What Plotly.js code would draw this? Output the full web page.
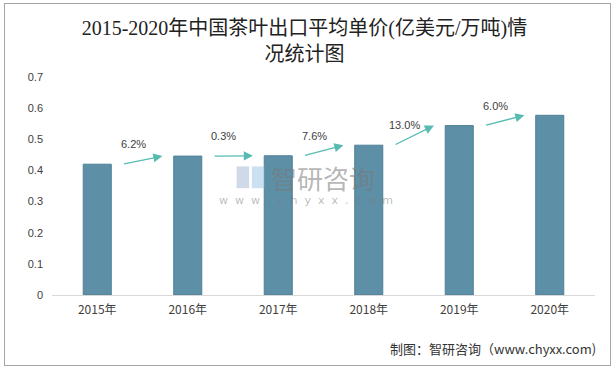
<!DOCTYPE html>
<html>
<head>
<meta charset="utf-8">
<script src="https://cdn.plot.ly/plotly-3.0.1.min.js"></script>
<style>
  html, body { margin: 0; padding: 0; background: #fff; }
  #wrap { position: relative; width: 615px; height: 369px; }
  #chart { width: 615px; height: 369px; }
  #frame { position: absolute; left: 4px; top: 3px; width: 607px; height: 363px;
           border: 1px solid #A6A6A6; pointer-events: none; box-sizing: border-box; }
</style>
</head>
<body>
<div id="wrap"><div id="chart"></div><div id="frame"></div></div>
<script>
const categories = ['2015年', '2016年', '2017年', '2018年', '2019年', '2020年'];
const values = [0.42, 0.446, 0.447, 0.481, 0.544, 0.577];
const growth = ['6.2%', '0.3%', '7.6%', '13.0%', '6.0%'];
const yTicks = [0, 0.1, 0.2, 0.3, 0.4, 0.5, 0.6, 0.7];

const barColor = '#5D90A7';
const arrowColor = '#57BBB2';
const cjk = '"Noto Sans CJK SC", "Noto Sans", sans-serif';
const serif = '"Liberation Serif", "DejaVu Serif", "Noto Sans CJK SC", serif';

const trace = {
  type: 'bar',
  x: categories,
  y: values,
  width: 0.31,
  marker: { color: barColor, line: { color: '#4F8097', width: 1 } },
  hoverinfo: 'skip'
};

const annotations = [];
for (let i = 0; i < growth.length; i++) {
  annotations.push({
    xref: 'x', yref: 'y', axref: 'x', ayref: 'y',
    x: i + 0.72, y: values[i + 1],
    ax: i + 0.28, ay: values[i],
    showarrow: true, arrowhead: 2, arrowsize: 1.4, arrowwidth: 1.3,
    arrowcolor: arrowColor, text: ''
  });
  annotations.push({
    xref: 'x', yref: 'y',
    x: i + 0.4, y: values[i], yshift: 20,
    text: growth[i], showarrow: false,
    font: { family: '"Liberation Sans", "DejaVu Sans", sans-serif', size: 11, color: '#404040' }
  });
}

// source note
annotations.push({
  xref: 'paper', yref: 'paper', x: 1.005, y: -0.245, xanchor: 'right', yanchor: 'middle',
  text: '制图：智研咨询（www.chyxx.com)', showarrow: false,
  font: { family: cjk, size: 13, color: '#333333' }
});
// watermark
annotations.push({
  xref: 'paper', yref: 'paper', x: 0.499, y: 0.54, xanchor: 'center', yanchor: 'middle',
  text: '智研咨询', showarrow: false,
  font: { family: cjk, size: 26, color: 'rgba(120,120,120,0.55)' }
});
annotations.push({
  xref: 'paper', yref: 'paper', x: 0.468, y: 0.435, xanchor: 'center', yanchor: 'middle',
  text: 'w&nbsp;&nbsp;w&nbsp;&nbsp;w&nbsp;&nbsp;.&nbsp;&nbsp;c&nbsp;&nbsp;h&nbsp;&nbsp;y&nbsp;&nbsp;x&nbsp;&nbsp;x&nbsp;&nbsp;.&nbsp;&nbsp;c&nbsp;&nbsp;o&nbsp;&nbsp;m',
  showarrow: false,
  font: { family: '"DejaVu Sans", sans-serif', size: 11, color: 'rgba(120,120,120,0.5)' }
});

const shapes = [
  // watermark logo approximation
  { type: 'rect', xref: 'paper', yref: 'paper', x0: 0.34, x1: 0.363, y0: 0.49, y1: 0.59,
    line: { width: 0 }, fillcolor: 'rgba(170,185,215,0.55)' },
  { type: 'rect', xref: 'paper', yref: 'paper', x0: 0.368, x1: 0.391, y0: 0.49, y1: 0.59,
    line: { width: 0 }, fillcolor: 'rgba(160,200,230,0.55)' }
];

const layout = {
  width: 615, height: 369,
  margin: { l: 52, r: 20, t: 77, b: 74 },
  paper_bgcolor: '#ffffff', plot_bgcolor: '#ffffff',
  title: {
    text: '2015-2020年中国茶叶出口平均单价(亿美元/万吨)情<br>况统计图',
    x: 0.495, xref: 'container', xanchor: 'center',
    y: 0.906, yref: 'container', yanchor: 'middle',
    font: { family: serif, size: 20, color: '#222222' }
  },
  xaxis: {
    type: 'category',
    tickfont: { family: cjk, size: 12, color: '#404040' },
    showgrid: false, showline: false, zeroline: false, ticks: '',
    ticklabelstandoff: 6
  },
  yaxis: {
    range: [0, 0.7], tickvals: yTicks, ticktext: yTicks.map(v => String(v)),
    showgrid: false, zeroline: true, zerolinecolor: '#D9D9D9', zerolinewidth: 1,
    showline: false, ticks: '',
    tickfont: { family: '"Liberation Sans", "DejaVu Sans", sans-serif', size: 11, color: '#404040' },
    ticklabelstandoff: 8
  },
  showlegend: false,
  annotations: annotations,
  shapes: shapes
};

Plotly.newPlot('chart', [trace], layout, { displayModeBar: false, staticPlot: true });
</script>
</body>
</html>
